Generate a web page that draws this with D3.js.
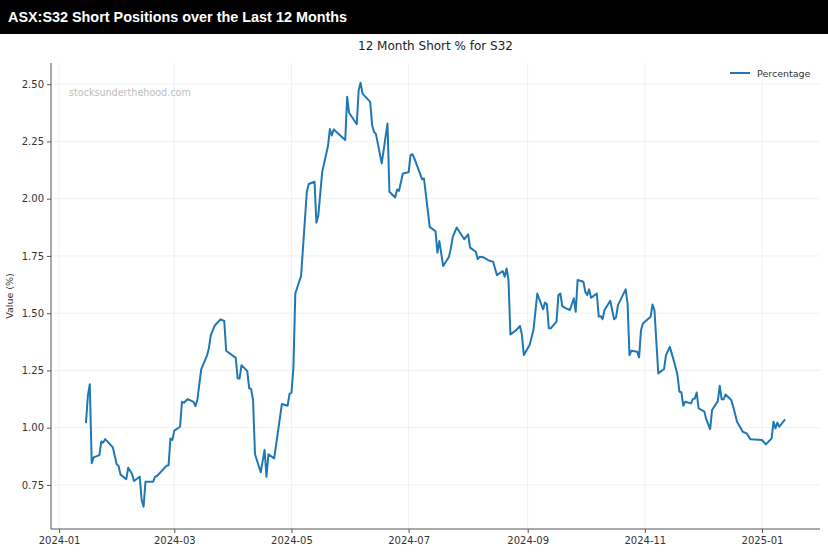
<!DOCTYPE html>
<html>
<head>
<meta charset="utf-8">
<script src="https://cdn.jsdelivr.net/npm/d3@7"></script>
<style>
  html, body { margin: 0; padding: 0; background: #fff; }
  svg { display: block; }
</style>
</head>
<body>
<svg id="chart" width="828" height="552"></svg>
<script>
const headerTitle = "ASX:S32 Short Positions over the Last 12 Months";
const chartTitle = "12 Month Short % for S32";
const seriesName = "Percentage";
const yLabel = "Value (%)";
const watermark = "stocksunderthehood.com";
const yTicks = [0.75, 1.00, 1.25, 1.50, 1.75, 2.00, 2.25, 2.50];
const xTicks = ["2024-01-01","2024-03-01","2024-05-01","2024-07-01","2024-09-01","2024-11-01","2025-01-01"];

const dates = [
"2024-01-15","2024-01-16","2024-01-17","2024-01-18","2024-01-19","2024-01-22","2024-01-23","2024-01-24","2024-01-25","2024-01-29",
"2024-01-31","2024-02-01","2024-02-02","2024-02-05","2024-02-06","2024-02-08","2024-02-09","2024-02-12","2024-02-13","2024-02-14",
"2024-02-15","2024-02-19","2024-02-20","2024-02-21","2024-02-26","2024-02-27","2024-02-28","2024-02-29","2024-03-01","2024-03-04",
"2024-03-05","2024-03-06","2024-03-08","2024-03-11","2024-03-12","2024-03-13","2024-03-15","2024-03-18","2024-03-19","2024-03-20",
"2024-03-22","2024-03-25","2024-03-27","2024-03-28","2024-04-02","2024-04-03","2024-04-04","2024-04-05","2024-04-08","2024-04-09",
"2024-04-10","2024-04-11","2024-04-12","2024-04-15","2024-04-17","2024-04-18","2024-04-19","2024-04-22","2024-04-26","2024-04-29",
"2024-04-30","2024-05-01","2024-05-02","2024-05-03","2024-05-05","2024-05-06","2024-05-09","2024-05-10","2024-05-13","2024-05-14",
"2024-05-15","2024-05-17","2024-05-20","2024-05-21","2024-05-22","2024-05-23","2024-05-29","2024-05-30","2024-05-31","2024-06-04",
"2024-06-05","2024-06-06","2024-06-07","2024-06-11","2024-06-12","2024-06-13","2024-06-14","2024-06-17","2024-06-20","2024-06-21",
"2024-06-24","2024-06-25","2024-06-26","2024-06-28","2024-07-01","2024-07-02","2024-07-03","2024-07-04","2024-07-08","2024-07-09",
"2024-07-12","2024-07-15","2024-07-16","2024-07-17","2024-07-19","2024-07-22","2024-07-23","2024-07-24","2024-07-26","2024-07-30",
"2024-08-01","2024-08-02","2024-08-05","2024-08-06","2024-08-07","2024-08-09","2024-08-12","2024-08-14","2024-08-16","2024-08-19",
"2024-08-20","2024-08-21","2024-08-22","2024-08-23","2024-08-26","2024-08-28","2024-08-29","2024-08-30","2024-09-02","2024-09-04",
"2024-09-06","2024-09-09","2024-09-10","2024-09-11","2024-09-12","2024-09-13","2024-09-16","2024-09-17","2024-09-18","2024-09-19",
"2024-09-21","2024-09-23","2024-09-25","2024-09-26","2024-09-27","2024-09-30","2024-10-01","2024-10-02","2024-10-03","2024-10-04",
"2024-10-07","2024-10-08","2024-10-09","2024-10-10","2024-10-11","2024-10-14","2024-10-16","2024-10-17","2024-10-18","2024-10-22",
"2024-10-23","2024-10-24","2024-10-25","2024-10-28","2024-10-29","2024-10-30","2024-10-31","2024-11-04","2024-11-05","2024-11-06",
"2024-11-08","2024-11-11","2024-11-12","2024-11-14","2024-11-16","2024-11-18","2024-11-19","2024-11-20","2024-11-21","2024-11-22",
"2024-11-25","2024-11-26","2024-11-27","2024-11-28","2024-11-29","2024-12-02","2024-12-03","2024-12-05","2024-12-06","2024-12-09",
"2024-12-10","2024-12-11","2024-12-12","2024-12-13","2024-12-16","2024-12-17","2024-12-19","2024-12-22","2024-12-24","2024-12-26",
"2025-01-01","2025-01-03","2025-01-06","2025-01-07","2025-01-08","2025-01-09","2025-01-10","2025-01-13"
];
const values = [
1.02,1.14,1.19,0.845,0.87,0.88,0.94,0.935,0.95,0.914,
0.84,0.833,0.795,0.775,0.825,0.798,0.767,0.786,0.684,0.655,
0.764,0.764,0.786,0.789,0.834,0.836,0.953,0.946,0.987,1.004,
1.113,1.109,1.125,1.113,1.094,1.121,1.255,1.315,1.346,1.404,
1.445,1.473,1.466,1.336,1.305,1.215,1.215,1.273,1.247,1.172,
1.169,1.121,0.885,0.805,0.903,0.786,0.884,0.866,1.103,1.096,
1.147,1.153,1.259,1.586,1.637,1.662,2.030,2.064,2.074,1.895,
1.928,2.117,2.229,2.304,2.276,2.302,2.256,2.445,2.375,2.325,
2.474,2.506,2.459,2.423,2.321,2.292,2.282,2.154,2.328,2.030,
2.005,2.040,2.034,2.110,2.115,2.190,2.194,2.176,2.085,2.088,
1.877,1.858,1.764,1.815,1.706,1.746,1.783,1.833,1.874,1.823,
1.844,1.786,1.768,1.736,1.746,1.744,1.729,1.725,1.666,1.684,
1.659,1.695,1.645,1.407,1.426,1.444,1.404,1.317,1.361,1.426,
1.586,1.517,1.546,1.540,1.434,1.434,1.463,1.579,1.586,1.531,
1.521,1.514,1.565,1.506,1.645,1.637,1.593,1.579,1.604,1.567,
1.586,1.485,1.487,1.474,1.514,1.554,1.473,1.482,1.535,1.604,
1.543,1.317,1.336,1.332,1.307,1.426,1.455,1.484,1.538,1.514,
1.237,1.256,1.317,1.353,1.295,1.230,1.157,1.155,1.096,1.113,
1.106,1.125,1.127,1.154,1.084,1.070,1.036,0.994,1.077,1.116,
1.183,1.124,1.124,1.145,1.121,1.092,1.026,0.982,0.975,0.949,
0.946,0.927,0.953,1.026,0.997,1.022,1.004,1.036
];

const parse = d3.utcParse("%Y-%m-%d");
const data = dates.map((d, i) => ({ date: parse(d), value: values[i] }));

const W = 828, H = 552;
const margin = { left: 51, right: 8, top: 63, bottom: 23 };
const svg = d3.select("#chart");

// header band
svg.append("rect").attr("x", 0).attr("y", 0).attr("width", W).attr("height", 34).attr("fill", "#000");
svg.append("text").attr("x", 8).attr("y", 22)
  .attr("fill", "#fff").attr("font-family", "Liberation Sans, Arial, sans-serif")
  .attr("font-weight", "bold").attr("font-size", 14.4).text(headerTitle);

// scales with matplotlib-like 5% margins
const xExt = d3.extent(data, d => d.date);
const xPad = (xExt[1] - xExt[0]) * 0.05;
const x = d3.scaleUtc()
  .domain([new Date(+xExt[0] - xPad), new Date(+xExt[1] + xPad)])
  .range([margin.left, W - margin.right]);
const yExt = d3.extent(data, d => d.value);
const y = d3.scaleLinear()
  .domain([0.65 - 0.0925, 2.50 + 0.0925])
  .range([H - margin.bottom, margin.top]);

const font = "DejaVu Sans, Verdana, sans-serif";

// grid
const g = svg.append("g");
g.selectAll(".vg").data(xTicks.map(parse)).enter().append("line")
  .attr("x1", d => x(d)).attr("x2", d => x(d))
  .attr("y1", y.range()[1]).attr("y2", y.range()[0])
  .attr("stroke", "#ededed").attr("stroke-width", 0.8);
g.selectAll(".hg").data(yTicks).enter().append("line")
  .attr("x1", margin.left).attr("x2", W - margin.right)
  .attr("y1", d => y(d)).attr("y2", d => y(d))
  .attr("stroke", "#ededed").attr("stroke-width", 0.8);

// axes
const xAxis = d3.axisBottom(x).tickValues(xTicks.map(parse))
  .tickFormat(d3.utcFormat("%Y-%m")).tickSizeOuter(0).tickSize(4).tickPadding(4);
const yAxis = d3.axisLeft(y).tickValues(yTicks)
  .tickFormat(d3.format(".2f")).tickSizeOuter(0).tickSize(4).tickPadding(3);

const gx = svg.append("g").attr("transform", `translate(0,${H - margin.bottom})`).call(xAxis);
const gy = svg.append("g").attr("transform", `translate(${margin.left},0)`).call(yAxis);
[gx, gy].forEach(a => {
  a.select(".domain").attr("stroke", "#555").attr("stroke-width", 1);
  a.selectAll(".tick line").attr("stroke", "#555");
  a.selectAll(".tick text").attr("fill", "#333").attr("font-family", font).attr("font-size", 10);
});
gx.select(".domain").attr("d", `M${margin.left},0H${W - margin.right}`);
gy.select(".domain").attr("d", `M0,${y.range()[0]}V${y.range()[1]}`);

// watermark
svg.append("text").attr("x", 69).attr("y", 96)
  .attr("fill", "#bdbdbd").attr("font-family", font).attr("font-size", 9.6).text(watermark);

// line
const line = d3.line().x(d => x(d.date)).y(d => y(d.value));
svg.append("path").datum(data).attr("d", line)
  .attr("fill", "none").attr("stroke", "#1f77b4").attr("stroke-width", 2)
  .attr("stroke-linejoin", "round");

// title
svg.append("text").attr("x", (margin.left + W - margin.right) / 2).attr("y", 50)
  .attr("text-anchor", "middle").attr("fill", "#222").attr("font-family", font)
  .attr("font-size", 12).text(chartTitle);

// y label
svg.append("text").attr("transform", `translate(13,${(y.range()[0] + y.range()[1]) / 2}) rotate(-90)`)
  .attr("text-anchor", "middle").attr("fill", "#333").attr("font-family", font)
  .attr("font-size", 9.5).text(yLabel);

// legend
svg.append("line").attr("x1", 730).attr("x2", 750).attr("y1", 73).attr("y2", 73)
  .attr("stroke", "#1f77b4").attr("stroke-width", 2);
svg.append("text").attr("x", 757).attr("y", 77).attr("fill", "#333")
  .attr("font-family", font).attr("font-size", 9.5).text(seriesName);
</script>
</body>
</html>
